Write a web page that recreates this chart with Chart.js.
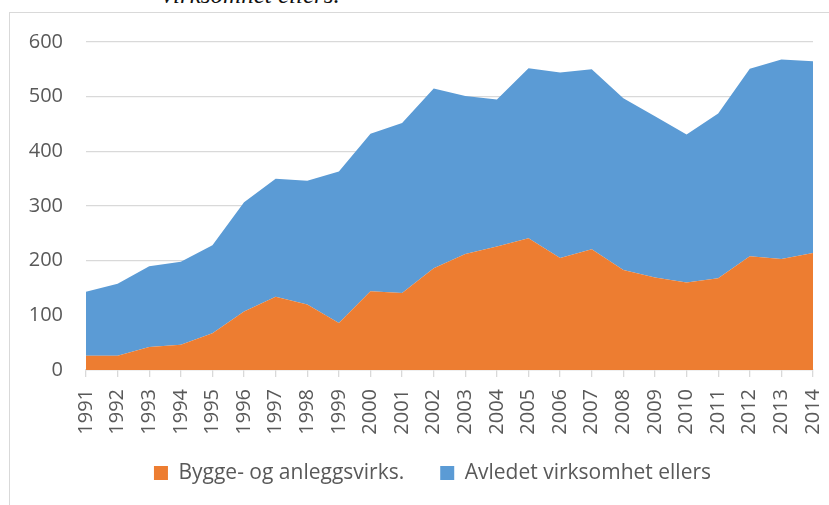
<!DOCTYPE html>
<html>
<head>
<meta charset="utf-8">
<script src="https://cdn.jsdelivr.net/npm/chart.js@4/dist/chart.umd.min.js"></script>
<style>
  html, body { margin: 0; padding: 0; width: 829px; height: 505px; overflow: hidden; background: #fff; }
  #frame { position: absolute; left: 9px; top: 12px; width: 900px; height: 600px; border: 1px solid #d9d9d9; box-sizing: border-box; }
  #cap { position: absolute; left: 162px; top: -18px; font-family: "Liberation Serif", "DejaVu Serif", serif; font-style: italic; font-size: 25px; line-height: 25px; color: #111; white-space: nowrap; }
  #wrap { position: absolute; left: 0; top: 0; width: 829px; height: 505px; }
</style>
</head>
<body>
<div id="cap">virksomhet ellers.</div>
<div id="frame"></div>
<div id="wrap"><canvas id="c" width="829" height="505"></canvas></div>
<script>
const years = ["1991","1992","1993","1994","1995","1996","1997","1998","1999","2000","2001","2002","2003","2004","2005","2006","2007","2008","2009","2010","2011","2012","2013","2014"];
const byggeAnlegg = [26,26,42,46,67,107,134,120,86,144,141,186,212,226,241,205,221,183,169,160,168,208,203,214];
const avledetEllers = [117,132,148,152,161,200,216,226,277,288,311,329,289,269,311,339,329,314,295,271,301,343,365,351];
const seriesNames = ["Bygge- og anleggsvirks.", "Avledet virksomhet ellers"];
const yTicks = [0,100,200,300,400,500,600];

const ORANGE = "#ED7D31";
const BLUE = "#5B9BD5";
const GRID = "#d9d9d9";
const TXT = "#595959";
const FONT = "'Open Sans', Lato, sans-serif";
const LEG_FONT = 21, LEG_PAD = 36;

// place the legend where the reference has it
const legendPlacer = {
  id: "legendPlacer",
  afterLayout(chart) {
    const L = chart.legend;
    if (!L) return;
    const h = L.height;
    L.left = 48; L.right = 817;
    L.top = 473 - LEG_PAD - LEG_FONT / 2; L.bottom = L.top + h;
  }
};

new Chart(document.getElementById("c"), {
  type: "line",
  data: {
    labels: years,
    datasets: [
      { label: seriesNames[0], data: byggeAnlegg, backgroundColor: ORANGE, borderColor: ORANGE, borderWidth: 0, fill: "origin", pointRadius: 0, tension: 0 },
      { label: seriesNames[1], data: avledetEllers, backgroundColor: BLUE, borderColor: BLUE, borderWidth: 0, fill: "-1", pointRadius: 0, tension: 0 }
    ]
  },
  plugins: [legendPlacer],
  options: {
    responsive: false,
    animation: false,
    devicePixelRatio: 1,
    layout: { padding: { left: 10, right: 16, top: 42, bottom: 2 } },
    plugins: {
      tooltip: { enabled: false },
      legend: {
        position: "bottom",
        labels: { boxWidth: 14, boxHeight: 14, padding: LEG_PAD, color: TXT, font: { family: FONT, size: LEG_FONT },
          generateLabels(chart) {
            return chart.data.datasets.map((d, i) => ({ text: d.label, fillStyle: d.backgroundColor, strokeStyle: d.backgroundColor, lineWidth: 0, datasetIndex: i, fontColor: TXT }));
          }
        }
      }
    },
    scales: {
      x: {
        offset: false,
        grid: { drawOnChartArea: false, drawTicks: true, tickLength: 7, color: GRID, lineWidth: 1.3 },
        border: { display: true, color: GRID, width: 1.3 },
        ticks: { color: TXT, font: { family: FONT, size: 20 }, maxRotation: 90, minRotation: 90, padding: 12, autoSkip: false },
        afterFit(s) { s.height = 66; s.paddingRight = 0; s.paddingLeft = 0; }
      },
      y: {
        stacked: true,
        min: 0, max: 600,
        afterBuildTicks(s) { s.ticks = yTicks.map(v => ({ value: v })); },
        grid: { color: GRID, lineWidth: 1.3, drawTicks: false },
        border: { display: false },
        ticks: { color: TXT, font: { family: FONT, size: 20 }, padding: 23 },
        afterFit(s) { s.width = 76; }
      }
    }
  }
});
</script>
</body>
</html>
